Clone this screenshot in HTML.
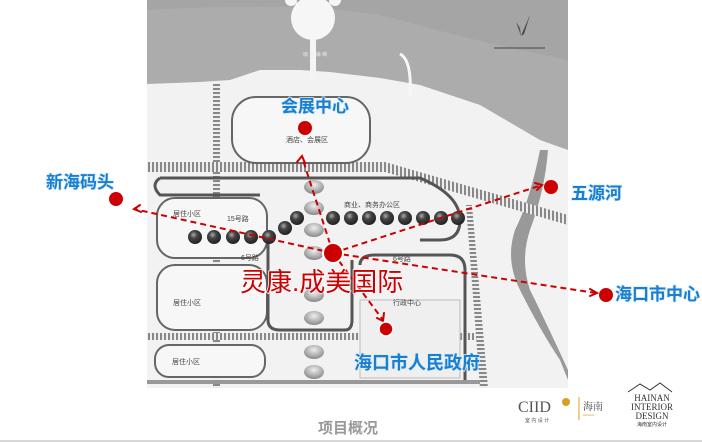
<!DOCTYPE html>
<html><head><meta charset="utf-8"><style>
html,body{margin:0;padding:0;background:#fff;}
body{width:702px;height:443px;overflow:hidden;position:relative;font-family:"Liberation Sans","Noto Sans CJK SC",sans-serif;}
svg{position:absolute;left:0;top:0;}
</style></head><body>
<svg width="702" height="443" viewBox="0 0 702 443" xmlns="http://www.w3.org/2000/svg">
<defs>
<pattern id="hatch" width="4" height="4" patternUnits="userSpaceOnUse"><rect width="4" height="4" fill="#eee"/><rect width="2" height="4" fill="#888"/></pattern>
<pattern id="hatchv" width="4" height="4" patternUnits="userSpaceOnUse"><rect width="4" height="4" fill="#eee"/><rect width="4" height="2" fill="#888"/></pattern>
<radialGradient id="dball" cx="40%" cy="35%" r="65%"><stop offset="0" stop-color="#aaa"/><stop offset="0.4" stop-color="#444"/><stop offset="1" stop-color="#222"/></radialGradient>
<radialGradient id="lball" cx="50%" cy="35%" r="65%"><stop offset="0" stop-color="#eee"/><stop offset="1" stop-color="#888"/></radialGradient>
</defs>
<rect x="147" y="0" width="421" height="388" fill="#f2f2f2"/>
<path d="M147 0 H568 V150 L540 140 L480 105 L420 85 L380 78 L330 72 L300 70 L260 70 L230 80 L200 82 L147 84 Z" fill="#acacac"/>
<path d="M147 0 H568 V60 Q470 40 400 20 Q330 0 147 10 Z" fill="#a0a0a0" opacity="0.6"/>
<rect x="310" y="30" width="6" height="50" fill="#f4f4f4"/>
<circle cx="313" cy="18" r="22" fill="#f6f6f6"/>
<circle cx="291" cy="0" r="6" fill="#f6f6f6"/><circle cx="335" cy="0" r="6" fill="#f6f6f6"/>
<line x1="296" y1="3" x2="305" y2="8" stroke="#f6f6f6" stroke-width="2"/><line x1="330" y1="3" x2="321" y2="8" stroke="#f6f6f6" stroke-width="2"/>
<path d="M400 54 Q412 60 410 96" stroke="#f6f6f6" stroke-width="3" fill="none"/>
<text x="303" y="56" font-size="5" fill="#eee">琼 州 海 峡</text>
<path d="M521 36 L530 15 L524 34 Z" fill="#444"/><path d="M521 36 L516 22 L520 28 Z" fill="#555"/>
<line x1="494" y1="48" x2="545" y2="48" stroke="#444" stroke-width="1"/>
<path d="M540 150 Q530 200 515 230 Q505 260 520 290 Q540 330 560 360 L568 380 L568 370 Q545 320 530 290 Q520 260 530 230 Q545 190 548 150 Z" fill="#999"/>
<rect x="213" y="84" width="7" height="304" fill="url(#hatchv)"/>
<path d="M147 162 H385 L568 215 V225 L385 172 H147 Z" fill="url(#hatch)"/>
<rect x="147" y="333" width="330" height="7" fill="url(#hatch)"/>
<path d="M466 205 L472 205 L488 388 L480 388 Z" fill="url(#hatchv)"/>
<rect x="232" y="97" width="138" height="66" rx="24" fill="#f7f7f7" stroke="#666" stroke-width="2"/>
<path d="M160 178 H420 Q460 195 460 220 Q460 240 440 240 L420 240" fill="none" stroke="#555" stroke-width="3"/>
<path d="M160 178 Q150 185 160 195 H260" fill="none" stroke="#555" stroke-width="3"/>
<rect x="157" y="198" width="110" height="60" rx="18" fill="#f7f7f7" stroke="#666" stroke-width="2"/>
<rect x="157" y="265" width="110" height="65" rx="18" fill="#f7f7f7" stroke="#666" stroke-width="2"/>
<rect x="155" y="345" width="110" height="32" rx="14" fill="#f7f7f7" stroke="#666" stroke-width="2"/>
<path d="M268 240 V320 Q268 330 280 330 H345 Q352 330 352 320 V260" fill="none" stroke="#555" stroke-width="3"/>
<path d="M360 265 Q360 255 375 255 H450 Q465 255 465 270 V380" fill="none" stroke="#555" stroke-width="3"/>
<rect x="360" y="300" width="100" height="78" fill="#efefef" stroke="#bbb"/>
<path d="M147 382 H480" stroke="#999" stroke-width="4"/>
<g font-size="7" fill="#444">
<text x="286" y="142">酒店、会展区</text>
<text x="344" y="207">商业、商务办公区</text>
<text x="173" y="216">居住小区</text><text x="227" y="221">15号路</text>
<text x="241" y="260">6号路</text><text x="393" y="261">6号路</text>
<text x="173" y="305">居住小区</text><text x="393" y="305">行政中心</text>
<text x="172" y="364">居住小区</text>
</g>
<g fill="url(#lball)">
<ellipse cx="314" cy="187" rx="10" ry="7"/><ellipse cx="314" cy="208" rx="10" ry="7"/>
<ellipse cx="314" cy="230" rx="10" ry="7"/><ellipse cx="314" cy="253" rx="10" ry="7"/>
<ellipse cx="314" cy="295" rx="10" ry="7"/><ellipse cx="314" cy="318" rx="10" ry="7"/>
<ellipse cx="314" cy="352" rx="10" ry="7"/><ellipse cx="314" cy="372" rx="10" ry="7"/>
</g>
<g fill="url(#dball)">
<circle cx="297" cy="218" r="7"/><circle cx="333" cy="218" r="7"/><circle cx="351" cy="218" r="7"/><circle cx="369" cy="218" r="7"/><circle cx="387" cy="218" r="7"/><circle cx="405" cy="218" r="7"/><circle cx="423" cy="218" r="7"/><circle cx="441" cy="218" r="7"/><circle cx="458" cy="218" r="7"/>
<circle cx="285" cy="228" r="7"/>
<circle cx="195" cy="237" r="7"/><circle cx="214" cy="237" r="7"/><circle cx="233" cy="237" r="7"/><circle cx="251" cy="237" r="7"/><circle cx="269" cy="237" r="7"/>
</g>
<g stroke="#c00" stroke-width="2" stroke-dasharray="6,4" fill="none">
<line x1="333" y1="253" x2="134" y2="209"/>
<line x1="333" y1="253" x2="302" y2="157"/>
<line x1="333" y1="253" x2="542" y2="185"/>
<line x1="333" y1="253" x2="596" y2="293"/>
<line x1="333" y1="253" x2="383" y2="320"/>
</g>
<g stroke="#c00" stroke-width="2" fill="none" stroke-linecap="round">
<path d="M140 205 L134 209 L141 212"/>
<path d="M297 162 L302 156 L305 163"/>
<path d="M535 183 L542 185 L537 190"/>
<path d="M590 289 L597 293 L590 296"/>
<path d="M377 318 L383 321 L384 313"/>
</g>
<g fill="#c00">
<circle cx="333" cy="253" r="10" stroke="#fff" stroke-width="2"/>
<circle cx="305" cy="128" r="7"/>
<circle cx="116" cy="199" r="7"/>
<circle cx="551" cy="187" r="7"/>
<circle cx="606" cy="295" r="7"/>
<circle cx="386" cy="329" r="7" stroke="#fff" stroke-width="1.5"/>
</g>
<g font-family="Liberation Sans, Noto Sans CJK SC, sans-serif" fill="#1a7fd0" font-size="17" font-weight="bold" stroke="#d8ecfa" stroke-width="1.5" paint-order="stroke">
<text x="281" y="112">会展中心</text>
<text x="46" y="188">新海码头</text>
<text x="571" y="199">五源河</text>
<text x="615" y="300">海口市中心</text>
<text x="354" y="369" font-size="18">海口市人民政府</text>
</g>
<text x="240" y="291" font-size="26" fill="#c00" stroke="#fff" stroke-width="1.5" paint-order="stroke" font-family="Liberation Sans, Noto Sans CJK SC, sans-serif">灵康.成美国际</text>
<text x="318" y="433" font-size="15" font-weight="bold" fill="#999" font-family="Liberation Sans, Noto Sans CJK SC, sans-serif">项目概况</text>
<line x1="0" y1="441" x2="702" y2="441" stroke="#ccc" stroke-width="1.5"/>
<text x="518" y="412" font-size="16" font-family="Liberation Serif, serif" fill="#555">CIID</text>
<circle cx="566" cy="402" r="4" fill="#d9a020"/>
<text x="525" y="422" font-size="5" fill="#555">室 内 设 计</text>
<line x1="579" y1="397" x2="579" y2="420" stroke="#d9a020"/>
<text x="583" y="410" font-size="10" fill="#444" font-family="Noto Serif CJK SC, serif">海南</text>
<text x="583" y="416" font-size="3" fill="#d9a020">HAINAN</text>
<g font-family="Liberation Serif, serif" fill="#333" text-anchor="middle">
<text x="652" y="401" font-size="9">HAINAN</text>
<text x="652" y="410" font-size="9">INTERIOR</text>
<text x="652" y="419" font-size="9">DESIGN</text>
<text x="652" y="426" font-size="5">海南室内设计</text>
</g>
<path d="M628 392 L640 384 L650 390 L660 383 L672 392" stroke="#333" fill="none"/>
</svg>
</body></html>
